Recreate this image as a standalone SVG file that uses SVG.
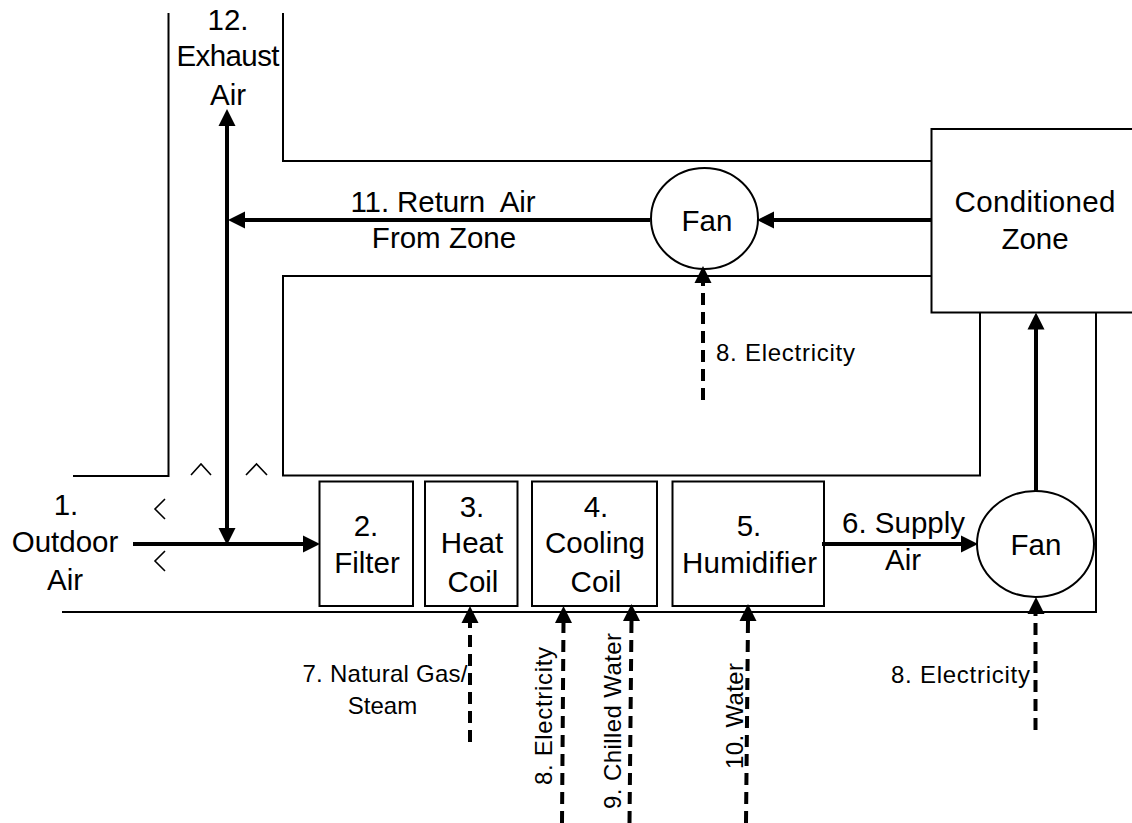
<svg xmlns="http://www.w3.org/2000/svg" width="1132" height="823" viewBox="0 0 1132 823">
<style>
.duct{fill:none;stroke:#000;stroke-width:2}
.box{fill:#fff;stroke:#000;stroke-width:2}
.flow{fill:none;stroke:#000;stroke-width:4}
.dash{fill:none;stroke:#000;stroke-width:4;stroke-dasharray:12 7}
.head{fill:#000}
.chev{fill:none;stroke:#000;stroke-width:1.6}
text{font-family:"Liberation Sans",Arial,sans-serif;fill:#000;text-anchor:middle;white-space:pre}
.l{font-size:29.500px}
.s{font-size:24px}
</style>
<g id="ducts">
<path class="duct" d="M73 476H168.500V13"/>
<path class="duct" d="M283 13V161H931"/>
<path class="duct" d="M931 276H283V475.500H980V312"/>
<path class="duct" d="M62 612H1096V312"/>
<path class="chev" d="M191 475L201 464L211 475M246 475L256.500 464L267 475M165 499L155 509L165 519M165 551L155 561L165 571"/>
</g>
<g id="zone"><rect class="box" x="931.500" y="129" width="205" height="183.500"/>
<text class="l" x="1035" y="212" textLength="161">Conditioned</text><text class="l" x="1035" y="249">Zone</text></g>
<g id="fan-return"><ellipse class="box" cx="704.500" cy="218.500" rx="53.500" ry="50.500"/><text class="l" x="707" y="231">Fan</text></g>
<g id="fan-supply"><ellipse class="box" cx="1035.500" cy="544" rx="58.500" ry="53"/><text class="l" x="1036" y="555">Fan</text></g>
<g id="filter"><rect class="box" x="319.500" y="481.500" width="93.500" height="124.500"/><text class="l" x="366" y="536">2.</text><text class="l" x="367" y="573">Filter</text></g>
<g id="heat-coil"><rect class="box" x="425" y="481.500" width="92.500" height="124.500"/><text class="l" x="472" y="517">3.</text><text class="l" x="472" y="553">Heat</text><text class="l" x="473" y="592">Coil</text></g>
<g id="cooling-coil"><rect class="box" x="532" y="481.500" width="125" height="124.500"/><text class="l" x="596" y="517">4.</text><text class="l" x="595" y="553">Cooling</text><text class="l" x="596" y="592">Coil</text></g>
<g id="humidifier"><rect class="box" x="672.500" y="481.500" width="151.500" height="124.500"/><text class="l" x="749" y="536">5.</text><text class="l" x="749.500" y="573" textLength="135">Humidifier</text></g>
<g id="connectors">
<path class="flow" d="M227 125V530"/><path class="head" d="M227 109L218.500 126H235.500ZM227 545L218.500 528H235.500Z"/>
<path class="flow" d="M133 544H305"/><path class="head" d="M320 544L303 535.500V552.500Z"/>
<path class="flow" d="M650 220H243"/><path class="head" d="M228 220L245 211.500V228.500Z"/>
<path class="flow" d="M931 220H772"/><path class="head" d="M757 220L774 211.500V228.500Z"/>
<path class="flow" d="M822 544H963"/><path class="head" d="M978 544L961 535.500V552.500Z"/>
<path class="flow" d="M1036 491V327"/><path class="head" d="M1036 312.500L1027.500 329.500H1044.500Z"/>
<path class="dash" d="M703 400V282"/><path class="head" d="M703 266L694.500 283H711.500Z"/>
<path class="dash" d="M1035.500 730V613"/><path class="head" d="M1036 597L1027.500 614H1044.500Z"/>
<path class="dash" d="M470 742V622"/><path class="head" d="M470 606L461.500 623H478.500Z"/>
<path class="dash" d="M562 823L563.500 622"/><path class="head" d="M563.500 606L555 623H572Z"/>
<path class="dash" d="M629.500 823L631.500 620"/><path class="head" d="M631.500 604L623 621H640Z"/>
<path class="dash" d="M746 823L748 620"/><path class="head" d="M748 604L739.500 621H756.500Z"/>
</g>
<g id="labels">
<text class="l" x="228" y="30">12.</text><text class="l" x="228" y="66" textLength="103">Exhaust</text><text class="l" x="228" y="105">Air</text>
<text class="l" x="443" y="212" textLength="185">11. Return  Air</text><text class="l" x="444" y="248">From Zone</text>
<text class="l" x="66" y="515">1.</text><text class="l" x="65" y="552">Outdoor</text><text class="l" x="65" y="590">Air</text>
<text class="l" x="903.500" y="533" textLength="123">6. Supply</text><text class="l" x="903" y="570">Air</text>
<text class="s" x="785.500" y="361" textLength="139">8. Electricity</text>
<text class="s" x="960.500" y="683" textLength="139">8. Electricity</text>
<text class="s" x="385" y="682" textLength="165">7. Natural Gas/</text><text class="s" x="382.500" y="714">Steam</text>
<text class="s" transform="translate(552,716) rotate(-90)" textLength="138">8. Electricity</text>
<text class="s" transform="translate(621,721) rotate(-90)" textLength="176">9. Chilled Water</text>
<text class="s" transform="translate(743,716) rotate(-90)" textLength="106">10. Water</text>
</g>
</svg>
